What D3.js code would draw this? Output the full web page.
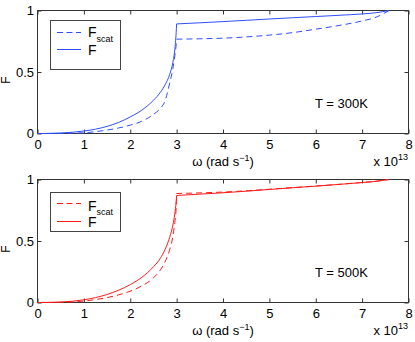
<!DOCTYPE html>
<html><head><meta charset="utf-8">
<script src="https://cdn.jsdelivr.net/npm/d3@7"></script>
<style>
body{margin:0;background:#fff}
svg{display:block}
text{font-family:"Liberation Sans",Arial,Helvetica,sans-serif;fill:#000}
</style>
</head><body><div id="chart"></div>
<script>
// ---- data ----
const xTicks = [0,1,2,3,4,5,6,7,8];
const yTicks = [0,0.5,1];
const yTickLabels = ["0","0.5","1"];
// omega (x 10^13 rad/s) below and above the 3x10^13 jump
const omegaLow  = [0,0.25,0.5,0.75,1.0,1.25,1.5,1.75,2.0,2.25,2.5,2.65,2.75,2.85,2.92,2.96,2.99,3.0];
const omegaHigh = [3.0,3.5,4.0,4.5,5.0,5.5,6.0,6.5,7.0,7.3,7.58];
// T = 300K
const F300Low      = [0,0.001,0.004,0.01,0.02,0.035,0.058,0.09,0.135,0.19,0.27,0.335,0.395,0.48,0.58,0.68,0.82,0.891];
const F300High     = [0.891,0.900,0.910,0.920,0.931,0.941,0.951,0.961,0.972,0.982,1.0];
const Fscat300Low  = [0,0.0003,0.001,0.003,0.006,0.015,0.028,0.045,0.068,0.10,0.155,0.205,0.265,0.41,0.53,0.63,0.72,0.767];
const Fscat300High = [0.767,0.770,0.775,0.785,0.80,0.82,0.848,0.878,0.915,0.945,1.0];
// T = 500K
const F500Low      = [0,0.001,0.004,0.01,0.022,0.04,0.065,0.10,0.145,0.205,0.29,0.36,0.43,0.53,0.63,0.72,0.82,0.87];
const F500High     = [0.87,0.881,0.892,0.905,0.919,0.933,0.946,0.96,0.975,0.985,1.0];
const Fscat500Low  = [0,0.0005,0.002,0.005,0.012,0.024,0.04,0.062,0.092,0.135,0.20,0.265,0.33,0.43,0.54,0.65,0.77,0.886];
const Fscat500High = [0.886,0.891,0.898,0.908,0.921,0.934,0.947,0.961,0.976,0.986,1.0];

const panels = [
  {top:10.5, bottom:133.5, color:"#2f4dff", label:"T = 300K",
   F:[F300Low,F300High], Fs:[Fscat300Low,Fscat300High],
   legend:{y:20.5,h:49,l1:32.5,l2:49.5,t1:37,t2:55,sub:42}},
  {top:179.5, bottom:302.5, color:"#ff1a1a", label:"T = 500K",
   F:[F500Low,F500High], Fs:[Fscat500Low,Fscat500High],
   legend:{y:192.5,h:39,l1:203.5,l2:221.5,t1:211,t2:227,sub:215}}
];

const W=415,H=342;
const svg = d3.select("#chart").append("svg").attr("width",W).attr("height",H);
const left=37.5, right=408.5;
const x = d3.scaleLinear().domain([0,8]).range([left,right]);

panels.forEach(p=>{
  const y = d3.scaleLinear().domain([0,1]).range([p.bottom,p.top]);
  const g = svg.append("g");
  const axC="#333";
  const ax = (gen, tr, labels)=>{
    const a = g.append("g").attr("transform",tr).call(gen);
    a.select(".domain").remove();
    a.selectAll(".tick line").attr("stroke",axC);
    a.selectAll("text").style("font-size","13px").attr("fill","#000");
    if(!labels) a.selectAll("text").remove();
    return a;
  };
  ax(d3.axisBottom(x).tickValues(xTicks).tickFormat(d3.format("d")).tickSize(-4).tickPadding(6),
     `translate(0,${p.bottom})`, true);
  ax(d3.axisTop(x).tickValues(xTicks).tickSize(-4), `translate(0,${p.top})`, false);
  ax(d3.axisLeft(y).tickValues(yTicks).tickFormat((d,i)=>yTickLabels[i]).tickSize(-4).tickPadding(3.5),
     `translate(${left},0)`, true);
  ax(d3.axisRight(y).tickValues(yTicks).tickSize(-4), `translate(${right},0)`, false);
  g.append("rect").attr("x",left).attr("y",p.top).attr("width",right-left).attr("height",p.bottom-p.top)
    .attr("fill","none").attr("stroke",axC).attr("stroke-width",1);

  const line = d3.line().x(d=>x(d[0])).y(d=>y(d[1])).curve(d3.curveMonotoneX);
  const pathFor = (low,high)=>{
    const a = line(omegaLow.map((o,i)=>[o,low[i]]));
    const b = line(omegaHigh.map((o,i)=>[o,high[i]]));
    return a + b.replace(/^M/,"L");
  };
  g.append("path").attr("d",pathFor(p.Fs[0],p.Fs[1])).attr("fill","none")
    .attr("stroke",p.color).attr("stroke-width",1).attr("stroke-dasharray","6,4");
  g.append("path").attr("d",pathFor(p.F[0],p.F[1])).attr("fill","none")
    .attr("stroke",p.color).attr("stroke-width",1);

  const L = p.legend;
  g.append("rect").attr("x",50.5).attr("y",L.y).attr("width",70).attr("height",L.h)
    .attr("fill","#fff").attr("stroke","#444");
  g.append("line").attr("x1",57).attr("x2",81).attr("y1",L.l1).attr("y2",L.l1)
    .attr("stroke",p.color).attr("stroke-dasharray","6,3.5");
  g.append("line").attr("x1",57).attr("x2",81).attr("y1",L.l2).attr("y2",L.l2)
    .attr("stroke",p.color);
  g.append("text").attr("x",88).attr("y",L.t1).style("font-size","14px").text("F");
  g.append("text").attr("x",96.5).attr("y",L.sub).style("font-size","9px").text("scat");
  g.append("text").attr("x",88).attr("y",L.t2).style("font-size","14px").text("F");

  g.append("text").attr("x",315).attr("y",p.top+97.5).style("font-size","13px").text(p.label);

  const yc = (p.top+p.bottom)/2 + 8;
  g.append("text").attr("transform",`translate(10,${yc}) rotate(-90)`)
    .attr("text-anchor","middle").style("font-size","12px").text("F");

  const xl = g.append("text").attr("x",223).attr("y",p.bottom+32).attr("text-anchor","middle").style("font-size","13px");
  xl.append("tspan").text("ω (rad s");
  xl.append("tspan").attr("dy",-5).style("font-size","9px").text("−1");
  xl.append("tspan").attr("dy",5).text(")");

  const ex = g.append("text").attr("x",408).attr("y",p.bottom+32).attr("text-anchor","end").style("font-size","13px");
  ex.append("tspan").text("x 10");
  ex.append("tspan").attr("dy",-6).style("font-size","9px").text("13");
});
</script>
</body></html>
